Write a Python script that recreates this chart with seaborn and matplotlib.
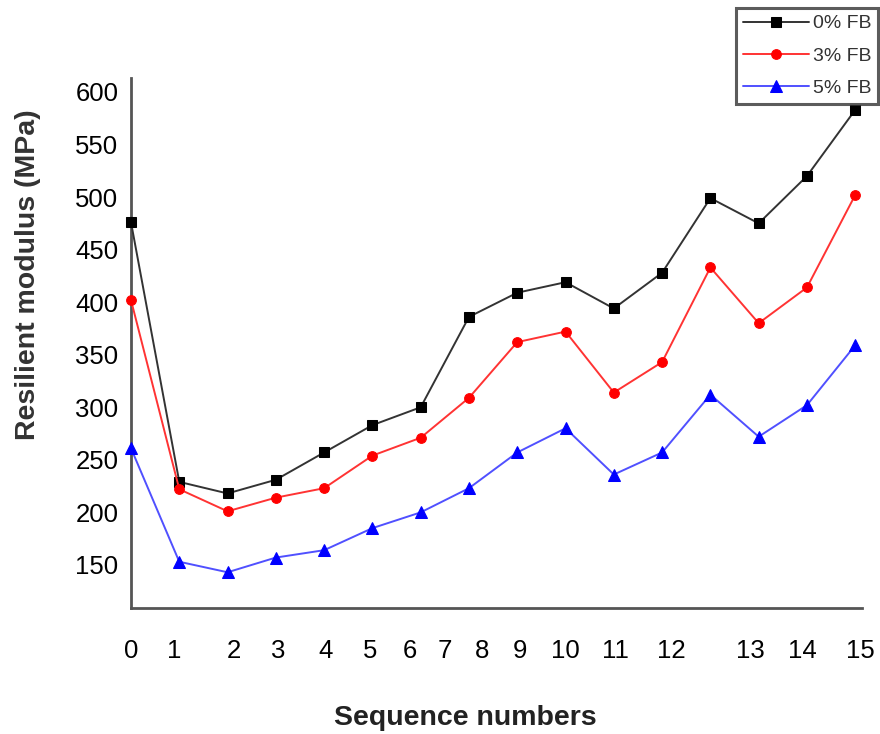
import numpy as np
import pandas as pd
import seaborn as sns
import matplotlib
matplotlib.use("Agg")
import matplotlib.pyplot as plt

# ---- data ----
sequence = list(range(16))
fb0 = [476, 229, 218, 231, 257, 283, 300, 386, 409, 419, 394, 428, 499, 475, 520, 583]
fb3 = [402, 222, 201, 214, 223, 254, 271, 309, 362, 372, 314, 343, 433, 380, 414, 502]
fb5 = [261, 153, 143, 157, 164, 185, 200, 223, 257, 280, 236, 257, 312, 272, 302, 359]
series_labels = ["0% FB", "3% FB", "5% FB"]
tick_labels = [str(i) for i in range(16)]
# positions of the (irregularly placed) tick labels along the sequence axis
tick_positions = [0, 0.89, 2.13, 3.04, 4.04, 4.95, 5.78, 6.5, 7.27, 8.06, 9.0, 10.03, 11.2, 12.82, 13.9, 15.1]
y_ticks = [150, 200, 250, 300, 350, 400, 450, 500, 550, 600]

sns.set_theme(style="white")
plt.rcParams["font.family"] = ["Liberation Sans", "DejaVu Sans"]

fig = plt.figure(figsize=(8.8, 7.34), dpi=100)
ax = fig.add_axes([131 / 880, 1 - 608 / 734, 731 / 880, 530 / 734])

styles = [
    dict(line="#333333", mk="black", marker="s", ms=7.5),
    dict(line="#ff3333", mk="red", marker="o", ms=7),
    dict(line="#5050ff", mk="blue", marker="^", ms=9),
]
for vals, lab, st in zip([fb0, fb3, fb5], series_labels, styles):
    df = pd.DataFrame({"seq": sequence, "val": vals})
    sns.lineplot(data=df, x="seq", y="val", ax=ax, color=st["line"], lw=1.4,
                 marker=st["marker"], markersize=st["ms"],
                 markerfacecolor=st["mk"], markeredgecolor=st["mk"],
                 label=lab, clip_on=False, zorder=3)

ax.set_xlim(0, 15.14)
ax.set_ylim(109, 613.3)
ax.set_xticks(tick_positions)
ax.set_xticklabels(tick_labels)
ax.set_yticks(y_ticks)
ax.tick_params(axis="both", length=0, labelsize=18.5, colors="black")
ax.tick_params(axis="x", pad=22)
ax.tick_params(axis="y", pad=9)

for s in ["top", "right"]:
    ax.spines[s].set_visible(False)
for s in ["left", "bottom"]:
    ax.spines[s].set_color("#555555")
    ax.spines[s].set_linewidth(2)

ax.set_xlabel("Sequence numbers", fontsize=20.5, fontweight="bold", color="#222222")
ax.set_ylabel("Resilient modulus (MPa)", fontsize=20.5, fontweight="bold", color="#333333")
ax.xaxis.set_label_coords(0.457, -0.183)
ax.yaxis.set_label_coords(-0.123, 0.628)
ax.xaxis.label.set_verticalalignment("top")

ax.get_legend().remove()
h, l = ax.get_legend_handles_labels()
leg = fig.legend(h, l, loc="upper right", bbox_to_anchor=(878 / 880, 1 - 8 / 734),
                 fontsize=14, frameon=True, fancybox=False, edgecolor="#333333",
                 handlelength=3.4, handletextpad=0.2, labelspacing=0.75,
                 borderpad=0.35, borderaxespad=0)
leg.get_frame().set_linewidth(2.2)
for t in leg.get_texts():
    t.set_color("#333333")

fig.savefig("out.png", dpi=100)
